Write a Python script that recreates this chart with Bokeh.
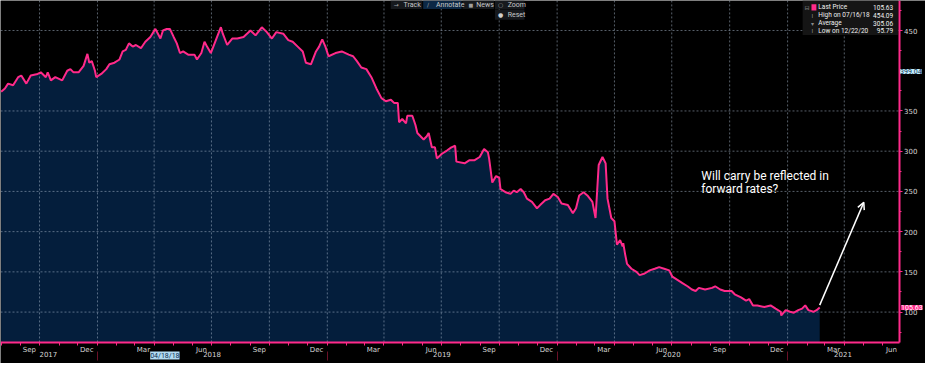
import pandas as pd
from bokeh.plotting import figure
from bokeh.models import (DatetimeAxis, LinearAxis, FixedTicker, DatetimeTickFormatter, Range1d,
                          Label, Arrow, OpenHead, BoxAnnotation, ColumnDataSource)
from bokeh.embed import file_html
from bokeh.resources import INLINE

# ---------------- data ----------------
dates = [
    "2017-08-01", "2017-08-07", "2017-08-12", "2017-08-20", "2017-08-28", "2017-09-02", "2017-09-10",
    "2017-09-17", "2017-09-28", "2017-10-03", "2017-10-11", "2017-10-14", "2017-10-19", "2017-10-26",
    "2017-11-06", "2017-11-14", "2017-11-19", "2017-11-24", "2017-12-02", "2017-12-10", "2017-12-16",
    "2017-12-19", "2017-12-23", "2017-12-28", "2017-12-30", "2018-01-07", "2018-01-15", "2018-01-20",
    "2018-01-28", "2018-02-05", "2018-02-10", "2018-02-15", "2018-02-20", "2018-02-26", "2018-03-03",
    "2018-03-11", "2018-03-18", "2018-03-26", "2018-04-03", "2018-04-07", "2018-04-11", "2018-04-15",
    "2018-04-21", "2018-04-26", "2018-05-02", "2018-05-07", "2018-05-12", "2018-05-17", "2018-05-25",
    "2018-06-04", "2018-06-08", "2018-06-15", "2018-06-20", "2018-06-24", "2018-06-30", "2018-07-08",
    "2018-07-16", "2018-07-19", "2018-07-26", "2018-08-03", "2018-08-11", "2018-08-21", "2018-09-01",
    "2018-09-09", "2018-09-19", "2018-09-27", "2018-10-05", "2018-10-12", "2018-10-23", "2018-10-31",
    "2018-11-07", "2018-11-15", "2018-11-23", "2018-11-28", "2018-12-06", "2018-12-14", "2018-12-19",
    "2018-12-24", "2018-12-29", "2019-01-03", "2019-01-14", "2019-01-24", "2019-02-04", "2019-02-11",
    "2019-02-17", "2019-02-24", "2019-03-04", "2019-03-12", "2019-03-20", "2019-03-28", "2019-04-04",
    "2019-04-12", "2019-04-17", "2019-04-23", "2019-04-25", "2019-04-30", "2019-05-06", "2019-05-08",
    "2019-05-16", "2019-05-21", "2019-05-24", "2019-06-03", "2019-06-08", "2019-06-11", "2019-06-16",
    "2019-06-21", "2019-06-24", "2019-07-02", "2019-07-10", "2019-07-17", "2019-07-23", "2019-07-25",
    "2019-08-07", "2019-08-15", "2019-08-23", "2019-08-31", "2019-09-07", "2019-09-13", "2019-09-15",
    "2019-09-20", "2019-09-26", "2019-10-01", "2019-10-03", "2019-10-11", "2019-10-19", "2019-10-24",
    "2019-10-29", "2019-11-04", "2019-11-09", "2019-11-14", "2019-11-22", "2019-11-30", "2019-12-05",
    "2019-12-13", "2019-12-20", "2019-12-26", "2020-01-02", "2020-01-08", "2020-01-18", "2020-01-26",
    "2020-01-31", "2020-02-05", "2020-02-12", "2020-02-18", "2020-02-26", "2020-03-02", "2020-03-07",
    "2020-03-13", "2020-03-18", "2020-03-21", "2020-03-27", "2020-04-01", "2020-04-05", "2020-04-10",
    "2020-04-14", "2020-04-15", "2020-04-18", "2020-04-21", "2020-04-28", "2020-05-06", "2020-05-11",
    "2020-05-19", "2020-05-27", "2020-06-04", "2020-06-11", "2020-06-19", "2020-06-27", "2020-07-02",
    "2020-07-10", "2020-07-18", "2020-07-26", "2020-08-02", "2020-08-08", "2020-08-13", "2020-08-23",
    "2020-09-03", "2020-09-08", "2020-09-16", "2020-09-23", "2020-10-04", "2020-10-09", "2020-10-19",
    "2020-10-27", "2020-11-01", "2020-11-07", "2020-11-14", "2020-11-25", "2020-12-05", "2020-12-13",
    "2020-12-21", "2020-12-22", "2020-12-29", "2021-01-05", "2021-01-11", "2021-01-18", "2021-01-24",
    "2021-01-29", "2021-02-03", "2021-02-11", "2021-02-16", "2021-02-21",
]
prices = [
    374, 378, 384, 382, 392, 394, 384,
    394, 396, 398, 392, 398, 388, 392,
    388, 400, 402, 398, 398, 406, 421,
    410, 412, 400, 392, 396, 402, 408,
    410, 414, 424, 426, 434, 430, 432,
    428, 436, 442, 452, 446, 440, 450,
    452, 452, 442, 434, 422, 424, 420,
    420, 414, 422, 436, 430, 422, 438,
    454.09, 446, 432, 440, 440, 442, 450,
    444, 454, 448, 440, 448, 446, 438,
    436, 430, 424, 410, 408, 424, 430,
    439, 430, 418, 422, 424, 420, 418,
    412, 404, 402, 392, 378, 366, 362,
    364, 360, 360, 336, 340, 334.5, 344,
    344, 332.5, 322.6, 314.6, 318.6, 322.6, 304.8,
    304.8, 291, 296.8, 300.8, 304.8, 306.7, 287,
    284.9, 288.8, 288.8, 292.8, 302.7, 298.8, 290.8,
    261, 269, 267, 253, 249, 247, 251,
    249, 253, 249, 241, 237, 229, 233,
    239, 241, 247, 243, 235, 233, 223,
    229, 245, 249, 245, 237, 217, 282.8,
    292.8, 284.9, 241, 217, 213, 183.7, 189.6,
    181.7, 185.7, 171.8, 159.9, 153.9, 150, 146,
    148, 151.9, 153.9, 155.9, 153.9, 151.9, 144,
    140, 136, 132.1, 128.1, 126.2, 130.1, 128.1,
    130.1, 132.1, 128.1, 126.2, 126.2, 122.1, 118.2,
    114.3, 116.2, 108.3, 108.3, 106.3, 108.3, 104.3,
    100.4, 95.79, 102.4, 100.4, 99.2, 102.4, 104.3,
    108.3, 102.4, 100.4, 102.4, 105.63,
]

y_ticks = [100, 150, 200, 250, 300, 350, 400, 450]
y_minor_ticks = [75, 125, 175, 225, 275, 325, 375, 425, 475]
y_grid_values = [100, 150, 200, 250, 300, 350, 450]
month_label_dates = ["2017-09-15", "2017-12-15", "2018-03-15", "2018-06-15", "2018-09-15",
                     "2018-12-15", "2019-03-15", "2019-06-15", "2019-09-15", "2019-12-15",
                     "2020-03-15", "2020-06-15", "2020-09-15", "2020-12-15", "2021-03-15",
                     "2021-06-15"]
year_label_dates = ["2017-10-15", "2018-07-02", "2019-07-02", "2020-07-01", "2021-03-30"]
year_starts = ["2018-01-01", "2019-01-01", "2020-01-01", "2021-01-01"]

last_price = 105.63
high_price, high_date = 454.09, "07/16/18"
avg_price = 305.06
low_price, low_date = 95.79, "12/22/20"
cursor_value = 399.04
cursor_date = "2018-04-18"
note_text = "Will carry be reflected in\nforward rates?"

# chart window (Bloomberg style): visible dates and value floor / ceiling
x_start, x_edge, x_end = "2017-07-31", "2021-06-27", "2021-08-08"
y_low, y_floor, y_year_row, y_top = 36.1, 62.3, 51.5, 487.3


def ms(s):
    return pd.Timestamp(s).timestamp() * 1000.0


PINK = "#ff2a8a"
NAVY = "#041e3c"
TXT = "#d6d6d6"
W, H = 925, 363
KX, KY = W / 941.0, H / 379.0

p = figure(width=W, height=H, x_axis_type="datetime", x_axis_location=None, y_axis_location=None,
           x_range=Range1d(ms(x_start), ms(x_end)), y_range=Range1d(y_low, y_top),
           output_backend="svg", toolbar_location=None,
           background_fill_color="black", border_fill_color="black", outline_line_color=None,
           min_border_left=0, min_border_top=0, min_border_right=0, min_border_bottom=0)
p.grid.visible = False

src = ColumnDataSource(dict(x=pd.to_datetime(dates), y=prices))
p.varea(x="x", y1=y_floor, y2="y", source=src, fill_color=NAVY)

# dotted grid (drawn over the area, under the price line)
q_starts = [ms(d) for d in pd.date_range("2017-10-01", "2021-04-01", freq="QS")]
vsrc = ColumnDataSource(dict(x0=q_starts, x1=q_starts,
                             y0=[y_floor] * len(q_starts), y1=[y_top] * len(q_starts)))
hsrc = ColumnDataSource(dict(x0=[ms(x_start)] * len(y_grid_values),
                             x1=[ms(x_edge)] * len(y_grid_values),
                             y0=y_grid_values, y1=y_grid_values))
GRID = dict(line_color="#aebdd2", line_alpha=0.5, line_width=1, line_dash="2 2")
p.segment(x0="x0", x1="x1", y0="y0", y1="y1", source=vsrc, **GRID)
p.segment(x0="x0", x1="x1", y0="y0", y1="y1", source=hsrc, **GRID)

p.line(x="x", y="y", source=src, line_color=PINK, line_width=2)

fmt_keys = ["microseconds", "milliseconds", "seconds", "minsec", "minutes", "hourmin",
            "hours", "days", "months", "years"]

# month axis
xa = DatetimeAxis(fixed_location=y_floor, bounds=(ms(x_start), ms(x_edge)))
xa.ticker = FixedTicker(ticks=[ms(d) for d in month_label_dates],
                        minor_ticks=[ms(d) for d in pd.date_range("2017-08-01", "2021-06-01", freq="MS")])
xa.formatter = DatetimeTickFormatter(**{k: "%b" for k in fmt_keys})
xa.axis_line_color = PINK
xa.axis_line_width = 2
xa.major_tick_line_color = None
xa.minor_tick_line_color = PINK
xa.minor_tick_out = 3
xa.minor_tick_in = 0
xa.major_label_standoff = -2
xa.major_label_text_color = TXT
xa.major_label_text_font = "DejaVu Sans"
xa.major_label_text_font_size = "7px"
p.add_layout(xa, "below")

# year axis
ya2 = DatetimeAxis(fixed_location=y_year_row,
                   ticker=FixedTicker(ticks=[ms(d) for d in year_label_dates],
                                      minor_ticks=[ms(d) for d in year_starts]),
                   formatter=DatetimeTickFormatter(**{k: "%Y" for k in fmt_keys}))
ya2.axis_line_color = None
ya2.major_tick_line_color = None
ya2.minor_tick_line_color = "#6b1026"
ya2.minor_tick_out = 9
ya2.minor_tick_in = 0
ya2.major_label_standoff = -9
ya2.major_label_text_color = TXT
ya2.major_label_text_font = "DejaVu Sans"
ya2.major_label_text_font_size = "7px"
p.add_layout(ya2, "below")

# right value axis
yax = LinearAxis(fixed_location=ms(x_edge), bounds=(y_floor, y_top))
yax.ticker = FixedTicker(ticks=y_ticks, minor_ticks=y_minor_ticks)
yax.axis_line_color = PINK
yax.axis_line_width = 2
yax.major_tick_line_color = PINK
yax.major_tick_out = 3
yax.major_tick_in = 0
yax.minor_tick_line_color = PINK
yax.minor_tick_out = 2
yax.minor_tick_in = 0
yax.major_label_standoff = 2
yax.major_label_text_color = TXT
yax.major_label_text_font = "DejaVu Sans"
yax.major_label_text_font_size = "7px"
p.add_layout(yax, "right")

# annotation text + arrow
p.add_layout(Label(x=ms("2020-08-17"), y=278, text=note_text, text_color="white",
                   text_font="Roboto", text_font_size="12px", text_baseline="top",
                   text_line_height=0.95))
p.add_layout(Arrow(end=OpenHead(size=7, line_color="white", line_width=1.5),
                   x_start=ms("2021-02-21"), y_start=108.7, x_end=ms("2021-05-02"), y_end=236.4,
                   line_color="white", line_width=1.5))


def sx(rx):
    return rx * KX


def sy(ry):
    return H - ry * KY


def slabel(text, rx, ry, color=TXT, align="left", size="6.5px", font="Roboto"):
    p.add_layout(Label(x=sx(rx), y=sy(ry), x_units="screen", y_units="screen", text=text,
                       text_color=color, text_align=align, text_baseline="middle",
                       text_font=font, text_font_size=size))


def sbox(l, r, t, b, color):
    p.add_layout(BoxAnnotation(left=sx(l), right=sx(r), top=sy(t), bottom=sy(b),
                               left_units="screen", right_units="screen",
                               top_units="screen", bottom_units="screen",
                               fill_color=color, fill_alpha=1, line_color=None))


# legend panel (top right)
sbox(816, 913, 0, 36, "#151515")
slabel("⊟", 818, 7.3, color="#8a8a8a", size="6px", font="DejaVu Sans")
sbox(825, 830, 4, 10.5, PINK)
rows = [("Last Price", last_price, 7.3), (f"High on {high_date}", high_price, 15.3),
        ("Average", avg_price, 23.8), (f"Low on {low_date}", low_price, 31.8)]
for name, val, ry in rows:
    slabel(name, 832, ry, color="#f0f0f0")
    slabel(f"{val:.2f}", 908, ry, color="#f0f0f0", align="right")
slabel("I", 825, 15.3, color="#8a8a8a", size="6px")
slabel("▾", 824.5, 23.8, color="#8a8a8a", size="6px", font="DejaVu Sans")
slabel("I", 825, 31.8, color="#8a8a8a", size="6px")

# toolbar strip (top middle)
sbox(397, 429, 0, 9, "#16191d")
sbox(430, 469, 0, 9, "#0c2845")
sbox(470, 502, 0, 9, "#16191d")
sbox(503, 533, 0, 9, "#16191d")
sbox(503, 533, 9.5, 20, "#16191d")
slabel("→", 400, 4.5, color="#a0a0a0", size="6px", font="DejaVu Sans")
slabel("Track", 410, 4.5, color="#c8c8c8", size="7px")
slabel("∕", 434, 4.5, color="#a0a0a0", size="6px", font="DejaVu Sans")
slabel("Annotate", 443, 4.5, color="#c8c8c8", size="7px")
slabel("■", 476, 4.5, color="#a0a0a0", size="5px", font="DejaVu Sans")
slabel("News", 484, 4.5, color="#c8c8c8", size="7px")
slabel("○", 506, 4.5, color="#a0a0a0", size="6px", font="DejaVu Sans")
slabel("Zoom", 516, 4.5, color="#c8c8c8", size="7px")
slabel("●", 506, 15, color="#d0d0d0", size="6px", font="DejaVu Sans")
slabel("Reset", 516, 15, color="#c8c8c8", size="7px")

# badges on the value axis
p.add_layout(Label(x=ms(x_edge), y=cursor_value, x_offset=1,
                   text=f"{cursor_value:.2f}", text_color="#0b2f4f", text_font="Roboto",
                   text_font_size="7px", text_baseline="middle",
                   background_fill_color="#c5eefc"))
p.add_layout(Label(x=ms(x_edge), y=last_price, x_offset=2,
                   text=f"{last_price:.2f}", text_color="white", text_font="Roboto",
                   text_font_size="7px", text_baseline="middle",
                   background_fill_color=PINK))

# cursor date badge on the time axis
p.add_layout(Label(x=ms(cursor_date), y=y_year_row, y_offset=-4.5,
                   text=pd.Timestamp(cursor_date).strftime("%m/%d/%y"), text_color="#0b2f4f",
                   text_font="Roboto", text_font_size="7px", text_baseline="middle",
                   text_align="center", background_fill_color="#b2dbf3"))

open("out.html", "w").write(file_html(p, INLINE))
